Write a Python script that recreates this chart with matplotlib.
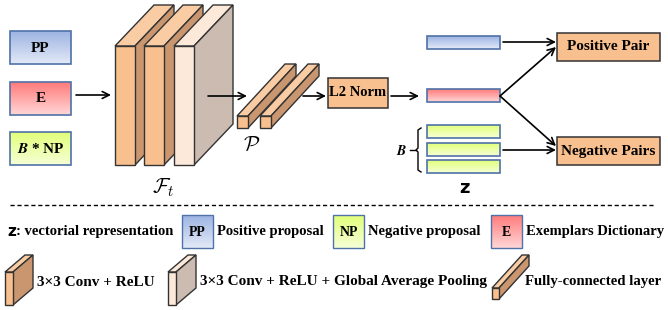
import numpy as np
import matplotlib.pyplot as plt
from matplotlib.patches import Polygon, Rectangle
from matplotlib.colors import LinearSegmentedColormap

plt.rcParams['font.family'] = 'Liberation Serif'
plt.rcParams['font.weight'] = 'bold'
plt.rcParams['mathtext.fontset'] = 'cm'

# labels / texts
input_labels = ['PP', 'E', '$\\boldsymbol{B}$ * NP']
pair_labels = ['Positive Pair', 'Negative Pairs']
legend_row1 = ['Positive proposal', 'Negative proposal', 'Exemplars Dictionary']
legend_row1_boxes = ['PP', 'NP', 'E']
legend_row2 = ['3×3 Conv + ReLU', '3×3 Conv + ReLU + Global Average Pooling', 'Fully-connected layer']

# gradient colours (top, bottom) and edges
blue = ('#9db4e2', '#e3e9f7', '#4f72a8')
red = ('#ff7b7b', '#ffd6d6', '#4f72a8')
green = ('#e2ff7a', '#f6ffd6', '#4f72a8')
orange = '#f9c08f'
orange_side = '#c99670'
orange_top = '#facca4'
pale = '#fde9da'
pale_side = '#cbbbb0'

fig = plt.figure(figsize=(6.68, 3.10), dpi=100)
ax = fig.add_axes([0, 0, 1, 1])
ax.set_xlim(0, 668)
ax.set_ylim(310, 0)
ax.axis('off')


def grad_box(x0, y0, x1, y1, cols, lw=1.0):
    cmap = LinearSegmentedColormap.from_list('g', [cols[0], cols[1]])
    arr = np.linspace(0, 1, 50).reshape(-1, 1)
    ax.imshow(arr, cmap=cmap, extent=(x0, x1, y1, y0), aspect='auto', zorder=2)
    ax.add_patch(Rectangle((x0, y0), x1 - x0, y1 - y0, fill=False,
                           ec=cols[2], lw=lw, zorder=3))


def block(x0, y0, x1, y1, dx, dy, front, side, top, lw=1.0):
    ec = '#333333'
    ax.add_patch(Polygon([(x0, y0), (x0 + dx, y0 + dy), (x1 + dx, y0 + dy), (x1, y0)],
                         fc=top, ec=ec, lw=lw, zorder=2))
    ax.add_patch(Polygon([(x1, y0), (x1 + dx, y0 + dy), (x1 + dx, y1 + dy), (x1, y1)],
                         fc=side, ec=ec, lw=lw, zorder=2))
    ax.add_patch(Rectangle((x0, y0), x1 - x0, y1 - y0, fc=front, ec=ec, lw=lw, zorder=2))


def arrow(x0, y0, x1, y1):
    ax.annotate('', xy=(x1, y1), xytext=(x0, y0),
                arrowprops=dict(arrowstyle='->,head_length=0.5,head_width=0.25', lw=1.2,
                                color='black', shrinkA=0, shrinkB=0), zorder=4)


fs = 11
fs1 = 10.5

# input boxes
for (lab, cols, y) in zip(input_labels, [blue, red, green], [31, 82, 132]):
    grad_box(10, y, 71, y + 33, cols, lw=1.2)
    ax.text(40.5, y + 17, lab, ha='center', va='center', fontsize=fs, zorder=5)

arrow(76, 95, 111, 95)

# conv blocks
block(115, 46, 135, 165, 39, -41, orange, orange_side, orange_top)
block(144, 46, 164, 165, 39, -41, orange, orange_side, orange_top)
block(174, 46, 194, 165, 39, -41, pale, pale_side, pale)
ax.text(163, 188, '$\\mathcal{F}_t$', ha='center', va='center', fontsize=15)

arrow(208, 96, 247, 96)

# fully-connected bars
block(237, 116, 248, 128, 48, -52, orange, orange_side, orange_top)
block(260, 116, 271, 128, 48, -52, orange, orange_side, orange_top)
ax.text(252, 146, '$\\mathcal{P}$', ha='center', va='center', fontsize=15)

arrow(303, 96, 326, 96)
ax.add_patch(Rectangle((328, 78), 60, 30, fc=orange, ec='#333333', lw=1.1, zorder=2))
ax.text(358, 93, 'L2 Norm', ha='center', va='center', fontsize=10.5, zorder=5)
arrow(391, 96, 419, 96)

# z vectors
grad_box(427, 36, 500, 49, blue, lw=1.2)
grad_box(427, 89, 500, 102, red, lw=1.2)
for y in [125, 143, 160]:
    grad_box(427, y, 500, y + 13, green, lw=1.2)

# brace
ax.plot([421, 418, 418, 416, 418, 418, 421], [128, 130, 148, 150, 152, 170, 172],
        color='black', lw=1.0)
ax.plot([410, 416], [150, 150], color='black', lw=1.0)
ax.text(402, 151, '$\\boldsymbol{B}$', ha='center', va='center', fontsize=10)
ax.text(464, 188, 'z', ha='center', va='center', fontsize=13,
        family='DejaVu Sans', weight='bold')

# pair boxes
for lab, y in zip(pair_labels, [33, 137]):
    ax.add_patch(Rectangle((557, y), 103, 28, fc=orange, ec='#333333', lw=1.1, zorder=2))
    ax.text(608.5, y + 14, lab, ha='center', va='center', fontsize=fs, zorder=5)

arrow(503, 42, 556, 42)
arrow(500, 96, 556, 47)
arrow(500, 96, 556, 146)
arrow(503, 150, 556, 150)

# separator
ax.plot([10, 655], [205, 205], color='black', lw=1.0, ls=(0, (3, 2)))

# legend row 1
ax.text(7, 232, 'z', ha='left', va='center', fontsize=11,
        family='DejaVu Sans', weight='bold')
ax.text(16, 232, ': vectorial representation', ha='left', va='center', fontsize=fs1)
for (x0, lab, cols, txt) in zip([182, 333, 491], legend_row1_boxes, [blue, green, red], legend_row1):
    grad_box(x0, 215, x0 + 31, 248, cols, lw=1.0)
    ax.text(x0 + 15.5, 232, lab, ha='center', va='center', fontsize=10, zorder=5)
    ax.text(x0 + 35, 232, txt, ha='left', va='center', fontsize=fs1)

# legend row 2
block(5, 272, 13, 305, 20, -17, orange, orange_side, orange_top)
ax.text(37, 282, legend_row2[0], ha='left', va='center', fontsize=fs)
block(168, 272, 176, 305, 20, -17, pale, pale_side, pale)
ax.text(200, 282, legend_row2[1], ha='left', va='center', fontsize=fs)
block(492, 288, 499, 299, 30, -33, orange, orange_side, orange_top)
ax.text(525, 282, legend_row2[2], ha='left', va='center', fontsize=10.6)

fig.savefig('out.png', dpi=100)
